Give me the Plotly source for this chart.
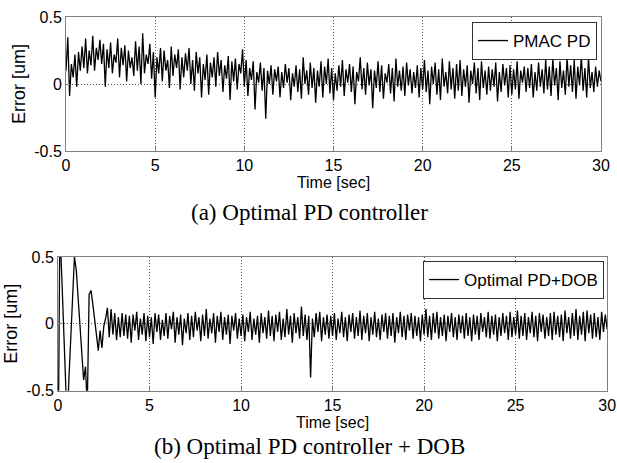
import numpy as np
import plotly.graph_objects as go

# time base of the logged error, one sample every 0.1 s over 30 s
time_sec = np.round(np.arange(0, 30.05, 0.1), 1)

# (a) PMAC PD tracking error [um]
pmac_pd_err = [
    0.10, 0.35, -0.09, 0.15, 0.05, 0.22, -0.02, 0.24, 0.10, 0.28,
    0.12, 0.34, 0.08, 0.25, 0.14, 0.36, 0.10, 0.27, 0.18, 0.33,
    0.15, 0.30, -0.02, 0.26, 0.12, 0.31, 0.08, 0.22, 0.16, 0.34,
    0.05, 0.27, 0.14, 0.29, 0.02, 0.25, 0.12, 0.20, 0.06, 0.32,
    0.10, 0.28, 0.00, 0.38, 0.08, 0.22, 0.15, 0.30, 0.04, 0.24,
    -0.10, 0.20, 0.08, 0.27, 0.02, 0.25, 0.10, 0.18, -0.03, 0.28,
    0.06, 0.22, 0.12, 0.26, -0.04, 0.20, 0.05, 0.23, 0.10, 0.27,
    0.00, 0.18, -0.05, 0.24, 0.08, 0.20, -0.10, 0.15, 0.03, 0.22,
    -0.08, 0.16, 0.05, 0.20, -0.02, 0.24, 0.06, 0.18, -0.06, 0.14,
    0.04, 0.21, -0.12, 0.17, 0.02, 0.19, -0.04, 0.15, 0.08, 0.26,
    -0.02, 0.18, -0.09, 0.12, 0.03, 0.17, -0.19, 0.09, 0.01, 0.16,
    -0.05, 0.12, -0.26, 0.10, 0.00, 0.14, -0.08, 0.11, 0.02, 0.13,
    -0.10, 0.09, -0.03, 0.15, 0.01, 0.12, -0.12, 0.08, -0.02, 0.14,
    -0.06, 0.11, -0.11, 0.20, 0.00, 0.10, -0.08, 0.16, -0.03, 0.12,
    -0.14, 0.10, -0.02, 0.17, -0.10, 0.13, 0.00, 0.19, -0.07, 0.12,
    -0.12, 0.08, -0.05, 0.14, -0.02, 0.18, -0.09, 0.11, 0.01, 0.15,
    -0.06, 0.13, -0.15, 0.09, 0.02, 0.20, -0.04, 0.12, -0.08, 0.16,
    -0.01, 0.11, -0.18, 0.10, -0.03, 0.17, -0.06, 0.14, -0.11, 0.08,
    0.01, 0.15, -0.07, 0.12, -0.13, 0.19, -0.02, 0.10, -0.05, 0.13,
    -0.09, 0.16, -0.01, 0.11, -0.07, 0.09, -0.03, 0.14, -0.10, 0.12,
    -0.04, 0.18, -0.06, 0.10, -0.15, 0.13, 0.00, 0.16, -0.08, 0.11,
    -0.12, 0.19, -0.02, 0.09, -0.07, 0.17, -0.04, 0.12, -0.11, 0.15,
    -0.05, 0.18, -0.09, 0.11, -0.02, 0.14, -0.14, 0.10, 0.00, 0.16,
    -0.07, 0.12, -0.12, 0.17, -0.03, 0.10, -0.08, 0.13, -0.05, 0.11,
    -0.02, 0.16, -0.13, 0.09, -0.06, 0.15, -0.01, 0.12, -0.10, 0.14,
    -0.08, 0.11, -0.04, 0.17, -0.11, 0.10, 0.01, 0.13, -0.06, 0.12,
    -0.03, 0.15, -0.10, 0.09, -0.05, 0.16, -0.02, 0.11, -0.07, 0.18,
    -0.04, 0.13, -0.09, 0.19, -0.01, 0.12, -0.12, 0.17, -0.03, 0.10,
    -0.08, 0.20, -0.02, 0.14, -0.06, 0.18, -0.11, 0.13, -0.01, 0.21,
    -0.05, 0.12, -0.10, 0.20, -0.03, 0.09, -0.06, 0.13, -0.02, 0.10,
    0.02,
]

# (b) optimal PD + DOB tracking error [um], transient then steady noise
opt_pd_dob_err = [
    -1.20, 0.70, 0.38, -0.05, -0.45, -0.75, -0.40, -0.10, 0.20, 0.50,
    0.40, 0.20, 0.00, -0.20, -0.42, -0.32, -0.62, 0.22, 0.25, 0.15,
    0.05, -0.08, -0.20, -0.05, -0.18, -0.02, 0.04, 0.12, -0.10, 0.11,
    -0.08, 0.08, -0.12, 0.05, -0.10, 0.08, -0.09, 0.07, -0.11, 0.06,
    -0.14, 0.07, -0.05, 0.09, -0.12, 0.04, -0.08, 0.08, -0.13, 0.06,
    -0.10, 0.05, -0.15, 0.08, -0.06, 0.07, -0.12, 0.03, -0.09, 0.08,
    -0.11, 0.06, -0.04, 0.09, -0.14, 0.05, -0.08, 0.07, -0.16, 0.04,
    -0.07, 0.08, -0.12, 0.06, -0.10, 0.09, -0.05, 0.05, -0.13, 0.07,
    -0.09, 0.11, -0.11, 0.04, -0.07, 0.08, -0.14, 0.06, -0.06, 0.09,
    -0.12, 0.05, -0.08, 0.07, -0.15, 0.06, -0.05, 0.08, -0.11, 0.04,
    -0.09, 0.07, -0.13, 0.05, -0.06, 0.09, -0.12, 0.04, -0.08, 0.06,
    -0.14, 0.08, -0.07, 0.05, -0.11, 0.10, -0.09, 0.06, -0.13, 0.07,
    -0.06, 0.09, -0.12, 0.04, -0.10, 0.11, -0.08, 0.06, -0.14, 0.08,
    -0.07, 0.05, -0.11, 0.13, -0.09, 0.07, -0.12, 0.06, -0.40, 0.04,
    -0.10, 0.08, -0.06, 0.09, -0.13, 0.05, -0.08, 0.07, -0.11, 0.06,
    -0.09, 0.08, -0.12, 0.04, -0.07, 0.09, -0.10, 0.05, -0.13, 0.07,
    -0.06, 0.08, -0.11, 0.05, -0.09, 0.10, -0.12, 0.06, -0.07, 0.08,
    -0.13, 0.05, -0.08, 0.09, -0.10, 0.04, -0.12, 0.07, -0.06, 0.08,
    -0.11, 0.06, -0.09, 0.08, -0.14, 0.05, -0.07, 0.09, -0.10, 0.06,
    -0.12, 0.07, -0.05, 0.08, -0.11, 0.06, -0.09, 0.05, -0.13, 0.07,
    -0.08, 0.11, -0.10, 0.06, -0.12, 0.08, -0.07, 0.09, -0.11, 0.05,
    -0.09, 0.07, -0.13, 0.06, -0.06, 0.08, -0.10, 0.05, -0.12, 0.07,
    -0.07, 0.06, -0.11, 0.08, -0.09, 0.05, -0.13, 0.07, -0.08, 0.06,
    -0.12, 0.08, -0.06, 0.05, -0.10, 0.09, -0.11, 0.06, -0.08, 0.07,
    -0.13, 0.05, -0.09, 0.08, -0.07, 0.06, -0.12, 0.09, -0.10, 0.05,
    -0.08, 0.10, -0.11, 0.06, -0.09, 0.08, -0.12, 0.05, -0.07, 0.09,
    -0.10, 0.06, -0.13, 0.08, -0.06, 0.07, -0.11, 0.05, -0.09, 0.08,
    -0.12, 0.09, -0.08, 0.06, -0.10, 0.07, -0.13, 0.10, -0.07, 0.05,
    -0.11, 0.08, -0.09, 0.11, -0.12, 0.06, -0.08, 0.09, -0.13, 0.10,
    -0.07, 0.07, -0.11, 0.08, -0.10, 0.05, -0.12, 0.09, -0.06, 0.07,
    -0.04,
]

x_ticks = [0, 5, 10, 15, 20, 25, 30]
y_ticks = [-0.5, 0, 0.5]
y_tick_text = ["-0.5", "0", "0.5"]

SANS = "Liberation Sans, Arial, sans-serif"
SERIF = "Liberation Serif, Times New Roman, serif"

fig = go.Figure()
fig.add_trace(go.Scatter(x=time_sec, y=pmac_pd_err, mode="lines", name="PMAC PD",
                         line=dict(color="black", width=1.3), xaxis="x", yaxis="y",
                         legend="legend", showlegend=True))
fig.add_trace(go.Scatter(x=time_sec, y=opt_pd_dob_err, mode="lines", name="Optimal PD+DOB",
                         line=dict(color="black", width=1.3), xaxis="x2", yaxis="y2",
                         legend="legend2", showlegend=True))

# matlab-ish boxed axes with dotted grid
axis_style = dict(showline=True, linecolor="#7f7f7f", linewidth=1, mirror=True,
                  ticks="inside", ticklen=4, tickcolor="#7f7f7f",
                  showgrid=True, gridcolor="#555555", griddash="1px,2px", gridwidth=1,
                  zeroline=False, tickfont=dict(family=SANS, size=16, color="black"))

xa = dict(axis_style, range=[0, 30], tickmode="array", tickvals=x_ticks,
          title=dict(text="Time [sec]", font=dict(family=SANS, size=16, color="black"), standoff=2))
ya = dict(axis_style, range=[-0.5, 0.5], tickmode="array", tickvals=y_ticks, ticktext=y_tick_text,
          title=dict(text="Error [um]", font=dict(family=SANS, size=18, color="black"), standoff=3))

fig.update_layout(
    template="none",
    width=617, height=463,
    margin=dict(l=0, r=0, t=0, b=0),
    paper_bgcolor="white", plot_bgcolor="white",
    showlegend=True,
    xaxis=dict(xa, domain=[0.107, 0.974], anchor="y"),
    yaxis=dict(ya, domain=[0.674, 0.963], anchor="x"),
    xaxis2=dict(xa, domain=[0.094, 0.984], anchor="y2"),
    yaxis2=dict(ya, domain=[0.156, 0.445], anchor="x2"),
    legend=dict(x=0.9676, y=0.9525, xanchor="right", yanchor="top",
                bgcolor="white", bordercolor="#333333", borderwidth=1,
                font=dict(family=SANS, size=17, color="black")),
    legend2=dict(x=0.979, y=0.4363, xanchor="right", yanchor="top",
                 bgcolor="white", bordercolor="#333333", borderwidth=1,
                 font=dict(family=SANS, size=17, color="black")),
    annotations=[
        dict(text="(a) Optimal PD controller", x=0.502, y=0.542, xref="paper", yref="paper",
             xanchor="center", yanchor="middle", showarrow=False,
             font=dict(family=SERIF, size=23, color="black")),
        dict(text="(b) Optimal PD controller + DOB", x=0.502, y=0.035, xref="paper", yref="paper",
             xanchor="center", yanchor="middle", showarrow=False,
             font=dict(family=SERIF, size=23, color="black")),
    ],
)

# page body has a default 8px margin, drop it so the figure sits at 0,0
fig.write_html("out.html", config={"displayModeBar": False},
               post_script="document.body.style.margin='0px';")
